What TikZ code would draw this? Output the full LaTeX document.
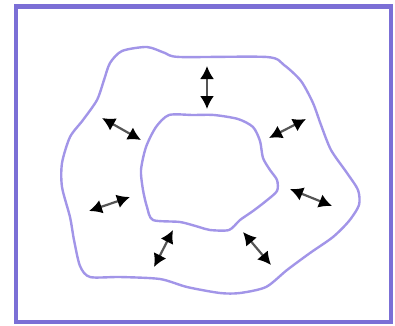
\documentclass[tikz,border=0pt]{standalone}
\usepackage{tikz}
\usetikzlibrary{arrows.meta}
\definecolor{framecol}{HTML}{7B6FD6}
\definecolor{curvecol}{HTML}{A295E8}
\definecolor{shaftcol}{HTML}{555555}
\tikzset{
  flux/.style={shaftcol, line width=2.2pt, {Latex[length=13pt,width=14pt,black]}-{Latex[length=13pt,width=14pt,black]}},
  blob/.style={curvecol, line width=2.4pt, smooth cycle, tension=0.45}
}

\begin{document}
\begin{tikzpicture}[x=1pt, y=-1pt]
\useasboundingbox (0,0) rectangle (395,325);

% frame
\draw[framecol, line width=4.5pt] (16,6.5) rectangle (391,322);

% outer and inner boundary
\draw[blob] plot coordinates {(110,63) (122,51) (147,47) (165,53) (180,57) (267,57) (284,65) (301,81) (313,103) (321,125) (331,150) (347,173) (358,190) (359,205) (349,221) (333,237) (310,253) (287,270) (266,287) (240,293) (220,293) (187,287) (160,279) (120,277) (90,277) (80,266) (74,240) (70,217) (62,187) (62,163) (70,137) (83,120) (97,100) (104,80)};
\draw[blob] plot coordinates {(146,147) (156,127) (169,115) (193,115) (214,115) (238,119) (253,127) (260,141) (263,158) (270,170) (277,180) (277,191) (266,201) (253,211) (240,220) (229,230) (210,230) (199,227) (180,222) (153,220) (147,207) (143,190) (141,170)};

% arrow end points
\coordinate (n1) at (207,66);  \coordinate (n2) at (207,109);
\coordinate (a1) at (102,118); \coordinate (a2) at (141,140);
\coordinate (b1) at (269,138); \coordinate (b2) at (306,119);
\coordinate (c1) at (290,189); \coordinate (c2) at (332,206);
\coordinate (d1) at (243,232); \coordinate (d2) at (271,265);
\coordinate (e1) at (173,230); \coordinate (e2) at (154,267);
\coordinate (f1) at (89,211);  \coordinate (f2) at (130,197);

\draw[flux] (n1) -- (n2);
\draw[flux] (a1) -- (a2);
\draw[flux] (b1) -- (b2);
\draw[flux] (c1) -- (c2);
\draw[flux] (d1) -- (d2);
\draw[flux] (e1) -- (e2);
\draw[flux] (f1) -- (f2);

\end{tikzpicture}
\end{document}
